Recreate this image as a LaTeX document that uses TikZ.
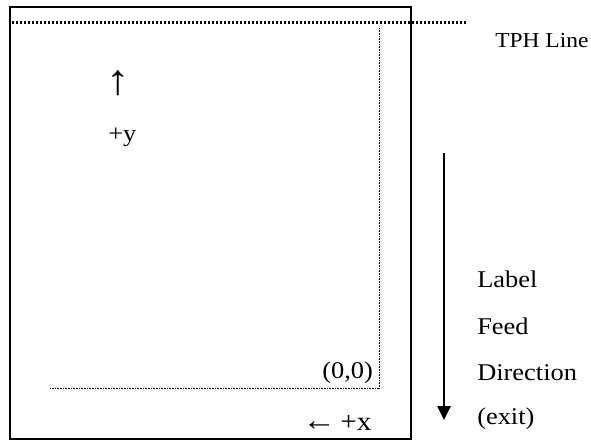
\documentclass[tikz,border=0pt]{standalone}
\usepackage{fontspec}
\setmainfont{Liberation Serif}[FakeStretch=1.1]
\usetikzlibrary{arrows.meta}
\tikzset{
  txt/.style={inner sep=0pt, anchor=base west, font=\fontsize{18}{18}\selectfont},
  frame/.style={line width=1.5pt},
  tphdots/.style={line width=1.6pt, dash pattern=on 1.6pt off 1.4pt},
  thindots/.style={line width=0.6pt, dash pattern=on 0.6pt off 0.6pt},
  feed/.style={line width=1.1pt, -{Triangle[length=10.5pt,width=10pt]}}
}
\begin{document}
\begin{tikzpicture}[x=0.75pt,y=-0.75pt]
\useasboundingbox (0,0) rectangle (591,439);
% outer label frame
\node[frame, draw, inner sep=0pt, minimum width=401.5*0.75pt, minimum height=432*0.75pt, anchor=north west] (lbl) at (8.5,5.5) {};
% TPH line
\coordinate (tphA) at (12,22.5);
\coordinate (tphB) at (467,22.5);
\draw[tphdots] (tphA) -- (tphB);
\node[txt, font=\fontsize{16}{16}\selectfont] (tph) at (495,47) {TPH Line};
% inner print area (dotted)
\coordinate (inTop) at (379,28);
\coordinate (inCorner) at (379,388);
\coordinate (inLeft) at (50,388);
\draw[thindots] (inTop) -- (inCorner) -- (inLeft);
\node[txt] (origin) at (322,378) {(0,0)};
% axes
\node[inner sep=0pt, anchor=base, font=\fontsize{32}{32}\selectfont] (yarrow) at (118,94) {↑};
\node[txt] (yplus) at (108,141) {+y};
\node[txt, font=\fontsize{23}{23}\selectfont] (xarrow) at (302,430) {←};
\node[txt, font=\fontsize{20}{20}\selectfont] (xplus) at (340,430) {+x};
% feed direction arrow
\coordinate (feedA) at (444,153);
\coordinate (feedB) at (444,420);
\draw[feed] (feedA) -- (feedB);
\node[txt] (t1) at (477,287) {Label};
\node[txt] (t2) at (477,334) {Feed};
\node[txt] (t3) at (477,380) {Direction};
\node[txt] (t4) at (477,424) {(exit)};
\end{tikzpicture}
\end{document}
